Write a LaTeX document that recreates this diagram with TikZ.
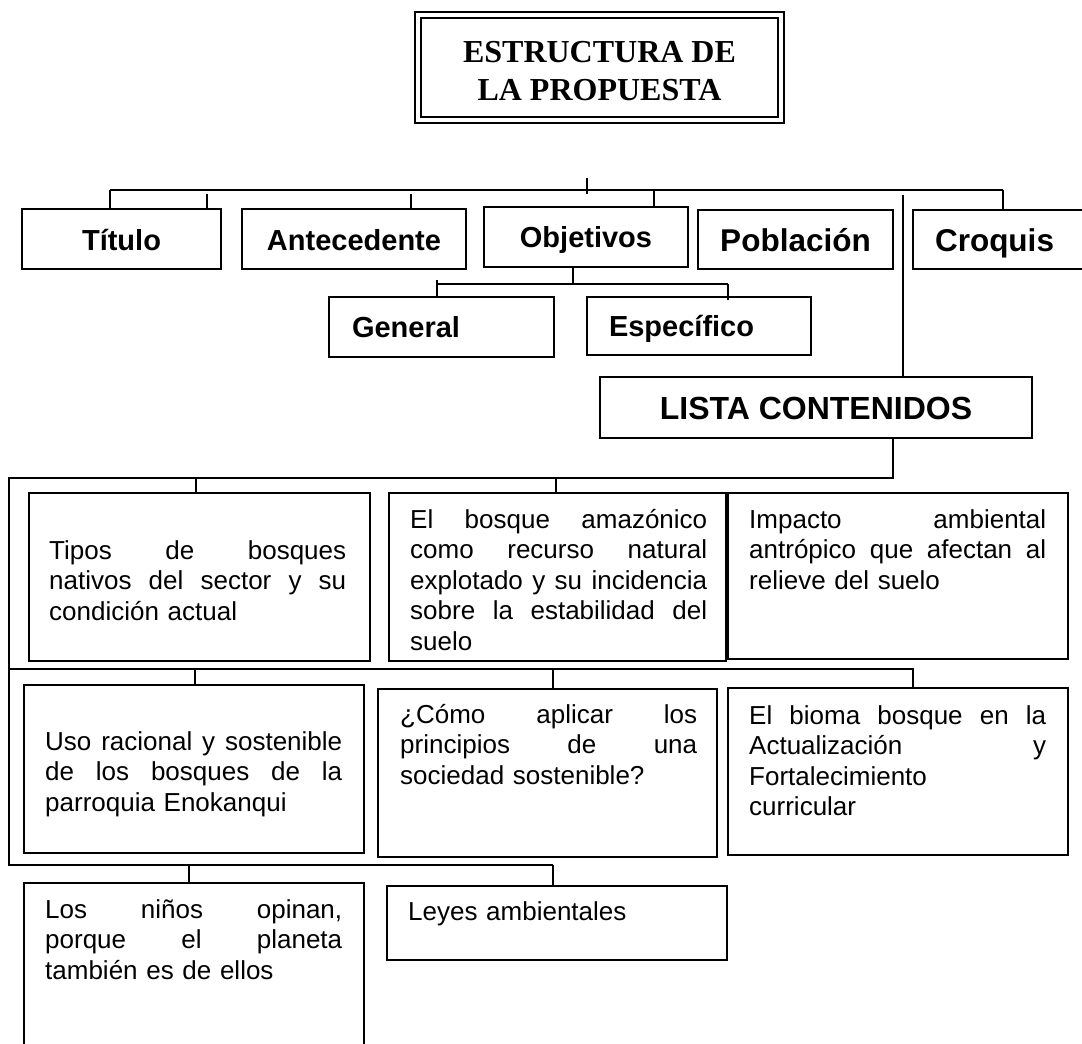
\documentclass[tikz,border=0pt]{standalone}
\usepackage{fontspec}
\setmainfont{Liberation Sans}
\newfontfamily\tnrfont{Liberation Serif}
\newcommand{\jl}[1]{\leavevmode\hbox to 297pt{\spaceskip=0.278em plus 1fil\relax #1}}
\begin{document}
\begin{tikzpicture}[x=1pt,y=-1pt,
  box/.style={draw, line width=1.6pt, inner sep=0pt, outer sep=0pt},
  lbox/.style={box, font=\fontsize{29pt}{34pt}\selectfont\bfseries},
  bigbox/.style={box, font=\fontsize{31.5pt}{36pt}\selectfont\bfseries},
  conn/.style={line width=1.8pt},
  spine/.style={line width=2.6pt},
  ctext/.style={anchor=north west, inner sep=0pt, text width=297pt, align=left,
    font=\fontsize{26pt}{30.5pt}\selectfont}
]
\useasboundingbox (0,0) rectangle (1082,1044);
\clip (0,0) rectangle (1082,1044);

% title
\node[draw, line width=2.4pt, minimum width=369pt, minimum height=111pt, inner sep=0pt, outer sep=0pt] (title) at (599.5,67.5) {};
\draw[line width=1.2pt] ([shift={(6,6)}]title.north west) rectangle ([shift={(-6,-6)}]title.south east);
\node[font=\tnrfont\bfseries\fontsize{32pt}{38pt}\selectfont, align=center, inner sep=0pt] (titletxt) at (599.5,71) {ESTRUCTURA DE\\LA PROPUESTA};

% row 1
\node[lbox, minimum width=199pt, text height=41pt, text depth=19pt, anchor=base] (titulo) at (121.5,250) {Título};
\node[lbox, minimum width=224pt, text height=41pt, text depth=19pt, anchor=base] (antec) at (354,250) {Antecedente};
\node[lbox, minimum width=204pt, text height=40pt, text depth=20pt, anchor=base] (objet) at (586,247) {Objetivos};
\node[bigbox, minimum width=195pt, text height=41pt, text depth=18pt, anchor=base] (pobl) at (795.5,251) {Población};
\node[bigbox, inner xsep=22pt, text width=160pt, align=left, text height=41pt, text depth=18pt, anchor=base west] (croq) at (913,251) {Croquis};

% sub boxes
\node[lbox, inner xsep=23pt, text width=179pt, align=left, text height=40.5pt, text depth=19.5pt, anchor=base west] (general) at (329,337.5) {General};
\node[lbox, inner xsep=22pt, text width=180pt, align=left, text height=39pt, text depth=19pt, anchor=base west] (especif) at (587,336) {Específico};

% lista
\node[box, font=\fontsize{32pt}{38pt}\selectfont\bfseries, minimum width=432pt, text height=42pt, text depth=19pt, anchor=base] (lista) at (816,419) {LISTA CONTENIDOS};

% content boxes
\node[box, minimum width=341pt, minimum height=168pt] (tipos) at (199.5,577) {};
\node[box, minimum width=337pt, minimum height=168pt] (bosque) at (557.5,577) {};
\node[box, minimum width=340pt, minimum height=166pt] (impacto) at (898,576) {};
\node[box, minimum width=340pt, minimum height=168pt] (uso) at (194,769) {};
\node[box, minimum width=339pt, minimum height=168pt] (como) at (547.5,773) {};
\node[box, minimum width=340pt, minimum height=167pt] (bioma) at (898,771.5) {};
\node[box, minimum width=340pt, minimum height=177pt] (ninos) at (194,971.5) {};
\node[box, minimum width=340pt, minimum height=74pt] (leyes) at (557,923) {};

% content texts
\node[ctext] (tipostxt) at (49,540) {\jl{Tipos de bosques}\\\jl{nativos del sector y su}\\condición actual};
\node[ctext] (bosquetxt) at (410,509) {\jl{El bosque amazónico}\\\jl{como recurso natural}\\\jl{explotado y su incidencia}\\\jl{sobre la estabilidad del}\\suelo};
\node[ctext] (impactotxt) at (749,509) {\jl{Impacto ambiental}\\\jl{antrópico que afectan al}\\relieve del suelo};
\node[ctext] (usotxt) at (45,731) {\jl{Uso racional y sostenible}\\\jl{de los bosques de la}\\parroquia Enokanqui};
\node[ctext] (comotxt) at (400,704) {\jl{¿Cómo aplicar los}\\\jl{principios de una}\\sociedad sostenible?};
\node[ctext] (biomatxt) at (749,705) {\jl{El bioma bosque en la}\\\jl{Actualización y}\\Fortalecimiento\\curricular};
\node[ctext] (ninostxt) at (45,899) {\jl{Los niños opinan,}\\\jl{porque el planeta}\\también es de ellos};
\node[ctext] (leyestxt) at (408,901) {Leyes ambientales};

% top connectors
\coordinate (busL) at (110,190);
\coordinate (busR) at (1003,190);
\coordinate (s1) at (207,194);
\coordinate (s2) at (411,194);
\coordinate (tk1) at (587,178);
\coordinate (tk2) at (587,194);
\coordinate (dO) at (654,190);
\coordinate (lv) at (903,195);
\draw[conn] (busL) -- (busR);
\draw[conn] (tk1) -- (tk2);
\draw[conn] (busL) -- (busL |- titulo.north);
\draw[conn] (s1) -- (s1 |- titulo.north);
\draw[conn] (s2) -- (s2 |- antec.north);
\draw[conn] (dO) -- (dO |- objet.north);
\draw[conn] (busR) -- (busR |- croq.north);
\draw[conn] (lv) -- (lv |- lista.north);

% objetivos connectors
\coordinate (oj) at (573,284);
\coordinate (gL) at (437,284);
\coordinate (gT) at (437,280);
\coordinate (eR) at (728,284);
\draw[conn] (oj |- objet.south) -- (oj);
\draw[conn] (gL) -- (eR);
\draw[conn] (gT) -- (gT |- general.north);
\draw[conn] (eR) -- ([yshift=-3pt]eR |- especif.north);

% lista spine
\coordinate (lb) at (893,478);
\coordinate (sp1) at (9,478);
\coordinate (sp2) at (9,669);
\coordinate (sp3) at (9,865);
\coordinate (b2R) at (913,669);
\coordinate (b3R) at (553,865);
\draw[spine] (lb |- lista.south) -- (lb) -- (sp1) -- (sp3) -- (b3R);
\draw[spine] (sp2) -- (b2R) -- (b2R |- bioma.north);

\coordinate (t1a) at (196,478);
\coordinate (t1b) at (556,478);
\coordinate (t2a) at (195,669);
\coordinate (t2b) at (553,669);
\coordinate (t3a) at (189,865);
\draw[conn] (t1a) -- (t1a |- tipos.north);
\draw[conn] (t1b) -- (t1b |- bosque.north);
\draw[conn] (t2a) -- (t2a |- uso.north);
\draw[conn] (t2b) -- (t2b |- como.north);
\draw[conn] (t3a) -- (t3a |- ninos.north);
\draw[conn] (b3R) -- (b3R |- leyes.north);
\end{tikzpicture}
\end{document}
